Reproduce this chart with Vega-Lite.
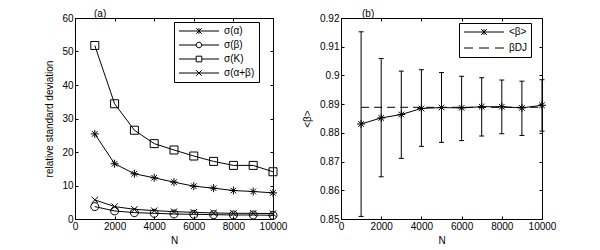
{
  "$schema": "https://vega.github.io/schema/vega-lite/v6.json",
  "padding": {"left": 44, "top": 8, "right": 0, "bottom": 0},
  "background": "white",
  "config": {
    "font": "Liberation Sans",
    "view": {"stroke": "black", "strokeWidth": 1},
    "axis": {"grid": false, "domain": false, "tickColor": "black", "tickSize": -3, "tickWidth": 1, "labelFontSize": 10, "labelColor": "black", "titleFontSize": 10, "titleFontWeight": "normal", "titleColor": "black", "labelPadding": 5, "labelFlush": false, "labelOverlap": false},
    "axisY": {"titlePadding": 7},
    "title": {"fontSize": 10, "fontWeight": "normal", "anchor": "start", "frame": "group", "offset": -3, "dy": 3, "color": "black"},
    "legend": {"labelFontSize": 10, "labelColor": "black", "fillColor": "white", "strokeColor": "black", "padding": 4, "symbolSize": 64, "symbolStrokeWidth": 1, "symbolStrokeColor": "black", "symbolOpacity": 1, "labelOffset": 36, "rowPadding": 4, "title": null}
  },
  "datasets": {
    "sigma": [
      {"series": "σ(α)", "N": 1000, "value": 25.4},
      {"series": "σ(α)", "N": 2000, "value": 16.5},
      {"series": "σ(α)", "N": 3000, "value": 13.5},
      {"series": "σ(α)", "N": 4000, "value": 12.3},
      {"series": "σ(α)", "N": 5000, "value": 11.0},
      {"series": "σ(α)", "N": 6000, "value": 9.8},
      {"series": "σ(α)", "N": 7000, "value": 9.2},
      {"series": "σ(α)", "N": 8000, "value": 8.5},
      {"series": "σ(α)", "N": 9000, "value": 8.2},
      {"series": "σ(α)", "N": 10000, "value": 7.8},
      {"series": "σ(β)", "N": 1000, "value": 3.7},
      {"series": "σ(β)", "N": 2000, "value": 2.4},
      {"series": "σ(β)", "N": 3000, "value": 1.9},
      {"series": "σ(β)", "N": 4000, "value": 1.7},
      {"series": "σ(β)", "N": 5000, "value": 1.5},
      {"series": "σ(β)", "N": 6000, "value": 1.4},
      {"series": "σ(β)", "N": 7000, "value": 1.3},
      {"series": "σ(β)", "N": 8000, "value": 1.2},
      {"series": "σ(β)", "N": 9000, "value": 1.2},
      {"series": "σ(β)", "N": 10000, "value": 1.1},
      {"series": "σ(K)", "N": 1000, "value": 51.8},
      {"series": "σ(K)", "N": 2000, "value": 34.4},
      {"series": "σ(K)", "N": 3000, "value": 26.5},
      {"series": "σ(K)", "N": 4000, "value": 22.5},
      {"series": "σ(K)", "N": 5000, "value": 20.6},
      {"series": "σ(K)", "N": 6000, "value": 18.8},
      {"series": "σ(K)", "N": 7000, "value": 17.2},
      {"series": "σ(K)", "N": 8000, "value": 16.0},
      {"series": "σ(K)", "N": 9000, "value": 16.0},
      {"series": "σ(K)", "N": 10000, "value": 14.1},
      {"series": "σ(α+β)", "N": 1000, "value": 5.7},
      {"series": "σ(α+β)", "N": 2000, "value": 3.7},
      {"series": "σ(α+β)", "N": 3000, "value": 2.9},
      {"series": "σ(α+β)", "N": 4000, "value": 2.5},
      {"series": "σ(α+β)", "N": 5000, "value": 2.2},
      {"series": "σ(α+β)", "N": 6000, "value": 2.0},
      {"series": "σ(α+β)", "N": 7000, "value": 1.8},
      {"series": "σ(α+β)", "N": 8000, "value": 1.7},
      {"series": "σ(α+β)", "N": 9000, "value": 1.7},
      {"series": "σ(α+β)", "N": 10000, "value": 1.6}
    ],
    "stats": [
      {"series": "<β>", "N": 1000, "mean": 0.8831, "lo": 0.8509, "hi": 0.9152},
      {"series": "<β>", "N": 2000, "mean": 0.8852, "lo": 0.8647, "hi": 0.9059},
      {"series": "<β>", "N": 3000, "mean": 0.8864, "lo": 0.8711, "hi": 0.9015},
      {"series": "<β>", "N": 4000, "mean": 0.8885, "lo": 0.8753, "hi": 0.9020},
      {"series": "<β>", "N": 5000, "mean": 0.8888, "lo": 0.8767, "hi": 0.9010},
      {"series": "<β>", "N": 6000, "mean": 0.8887, "lo": 0.8773, "hi": 0.8997},
      {"series": "<β>", "N": 7000, "mean": 0.8891, "lo": 0.8789, "hi": 0.8992},
      {"series": "<β>", "N": 8000, "mean": 0.8891, "lo": 0.8797, "hi": 0.8984},
      {"series": "<β>", "N": 9000, "mean": 0.8887, "lo": 0.8791, "hi": 0.8980},
      {"series": "<β>", "N": 10000, "mean": 0.8896, "lo": 0.8806, "hi": 0.8985}
    ],
    "dj": [
      {"series": "βDJ", "N": 1000, "value": 0.8889},
      {"series": "βDJ", "N": 10000, "value": 0.8889}
    ]
  },
  "spacing": -8,
  "resolve": {"scale": {"shape": "independent"}, "legend": {"shape": "independent"}},
  "hconcat": [
    {
      "width": 198,
      "height": 201,
      "title": {"text": "(a)", "dx": 19},
      "data": {"name": "sigma"},
      "resolve": {"axis": {"x": "independent", "y": "independent"}, "scale": {"shape": "independent"}, "legend": {"shape": "independent"}},
      "layer": [
        {
          "mark": {"type": "line", "stroke": "black", "strokeWidth": 1},
          "encoding": {
            "x": {"field": "N", "type": "quantitative", "scale": {"domain": [0, 10000]}, "axis": {"orient": "bottom", "values": [0, 2000, 4000, 6000, 8000, 10000], "format": "d", "title": "N"}},
            "y": {"field": "value", "type": "quantitative", "scale": {"domain": [0, 60]}, "axis": {"orient": "left", "values": [0, 10, 20, 30, 40, 50, 60], "format": "d", "title": "relative standard deviation"}},
            "detail": {"field": "series"}
          }
        },
        {
          "mark": {"type": "point", "filled": false, "stroke": "black", "strokeWidth": 1, "size": 64, "opacity": 1},
          "encoding": {
            "x": {"field": "N", "type": "quantitative", "axis": {"orient": "top", "values": [0, 2000, 4000, 6000, 8000, 10000], "labels": false, "title": null}},
            "y": {"field": "value", "type": "quantitative", "axis": {"orient": "right", "values": [0, 10, 20, 30, 40, 50, 60], "labels": false, "title": null}},
            "shape": {
              "field": "series",
              "type": "nominal",
              "scale": {
                "domain": ["σ(α)", "σ(β)", "σ(K)", "σ(α+β)"],
                "range": [
                  "M-1,0H1M0,-1V1M-0.7,-0.7L0.7,0.7M-0.7,0.7L0.7,-0.7",
                  "M1,0A1,1,0,1,1,-1,0A1,1,0,1,1,1,0Z",
                  "M-1,-1H1V1H-1Z",
                  "M-0.8,-0.8L0.8,0.8M-0.8,0.8L0.8,-0.8"
                ]
              },
              "legend": null
            }
          }
        },
        {
          "mark": {"type": "point", "filled": false, "stroke": "black", "strokeWidth": 1, "size": 64, "opacity": 0},
          "encoding": {
            "x": {"field": "N", "type": "quantitative", "axis": null},
            "y": {"field": "value", "type": "quantitative", "axis": null},
            "shape": {
              "field": "series",
              "type": "nominal",
              "scale": {
                "domain": ["σ(α)", "σ(β)", "σ(K)", "σ(α+β)"],
                "range": [
                  "M-1,0H9M4,-0.7V0.7M3.3,-0.7L4.7,0.7M3.3,0.7L4.7,-0.7",
                  "M-1,0H3.3M4.7,0H9M4.7,0A0.7,0.7,0,1,1,3.3,0A0.7,0.7,0,1,1,4.7,0Z",
                  "M-1,0H3.3M4.7,0H9M3.3,-0.7H4.7V0.7H3.3Z",
                  "M-1,0H9M3.3,-0.7L4.7,0.7M3.3,0.7L4.7,-0.7"
                ]
              },
              "legend": {
                "orient": "none",
                "legendX": 99,
                "legendY": 4,
                "strokeColor": "black",
                "fillColor": "white",
                "symbolOpacity": 1
              }
            }
          }
        }
      ]
    },
    {
      "width": 201,
      "height": 201,
      "title": {"text": "(b)", "dx": 21},
      "resolve": {"axis": {"x": "independent", "y": "independent"}, "scale": {"shape": "independent"}, "legend": {"shape": "independent"}},
      "layer": [
        {
          "data": {"name": "stats"},
          "mark": {"type": "rule", "stroke": "black", "strokeWidth": 1},
          "encoding": {
            "x": {"field": "N", "type": "quantitative", "scale": {"domain": [0, 10000]}, "axis": {"orient": "bottom", "values": [0, 2000, 4000, 6000, 8000, 10000], "format": "d", "title": "N"}},
            "y": {"field": "lo", "type": "quantitative", "scale": {"domain": [0.85, 0.92]}, "axis": {"orient": "left", "values": [0.85, 0.86, 0.87, 0.88, 0.89, 0.9, 0.91, 0.92], "format": ".2~f", "title": "<β>"}},
            "y2": {"field": "hi"}
          }
        },
        {
          "data": {"name": "stats"},
          "mark": {"type": "tick", "orient": "horizontal", "size": 5, "thickness": 1, "color": "black", "opacity": 1},
          "encoding": {
            "x": {"field": "N", "type": "quantitative", "axis": null},
            "y": {"field": "lo", "type": "quantitative", "axis": null}
          }
        },
        {
          "data": {"name": "stats"},
          "mark": {"type": "tick", "orient": "horizontal", "size": 5, "thickness": 1, "color": "black", "opacity": 1},
          "encoding": {
            "x": {"field": "N", "type": "quantitative", "axis": null},
            "y": {"field": "hi", "type": "quantitative", "axis": null}
          }
        },
        {
          "data": {"name": "dj"},
          "mark": {"type": "line", "stroke": "black", "strokeWidth": 1, "strokeDash": [8, 5]},
          "encoding": {
            "x": {"field": "N", "type": "quantitative", "axis": null},
            "y": {"field": "value", "type": "quantitative", "axis": null}
          }
        },
        {
          "data": {"name": "stats"},
          "mark": {"type": "line", "stroke": "black", "strokeWidth": 1},
          "encoding": {
            "x": {"field": "N", "type": "quantitative", "axis": null},
            "y": {"field": "mean", "type": "quantitative", "axis": null}
          }
        },
        {
          "data": {"name": "stats"},
          "mark": {"type": "point", "filled": false, "stroke": "black", "strokeWidth": 1, "size": 64, "opacity": 1, "shape": "M-1,0H1M0,-1V1M-0.7,-0.7L0.7,0.7M-0.7,0.7L0.7,-0.7"},
          "encoding": {
            "x": {"field": "N", "type": "quantitative", "axis": {"orient": "top", "values": [0, 2000, 4000, 6000, 8000, 10000], "labels": false, "title": null}},
            "y": {"field": "mean", "type": "quantitative", "axis": {"orient": "right", "values": [0.85, 0.86, 0.87, 0.88, 0.89, 0.9, 0.91, 0.92], "labels": false, "title": null}}
          }
        },
        {
          "data": {"name": "stats"},
          "mark": {"type": "point", "filled": false, "stroke": "black", "strokeWidth": 1, "size": 64, "opacity": 0},
          "encoding": {
            "x": {"field": "N", "type": "quantitative", "axis": null},
            "y": {"field": "mean", "type": "quantitative", "axis": null},
            "shape": {
              "field": "series",
              "type": "nominal",
              "scale": {
                "domain": ["<β>", "βDJ"],
                "range": [
                  "M-1,0H9M4,-0.7V0.7M3.3,-0.7L4.7,0.7M3.3,0.7L4.7,-0.7",
                  "M-1,0H1.25M2.75,0H5.25M6.75,0H9"
                ]
              },
              "legend": {
                "orient": "none",
                "legendX": 118,
                "legendY": 5,
                "rowPadding": 6,
                "strokeColor": "black",
                "fillColor": "white",
                "symbolOpacity": 1
              }
            }
          }
        }
      ]
    }
  ]
}
